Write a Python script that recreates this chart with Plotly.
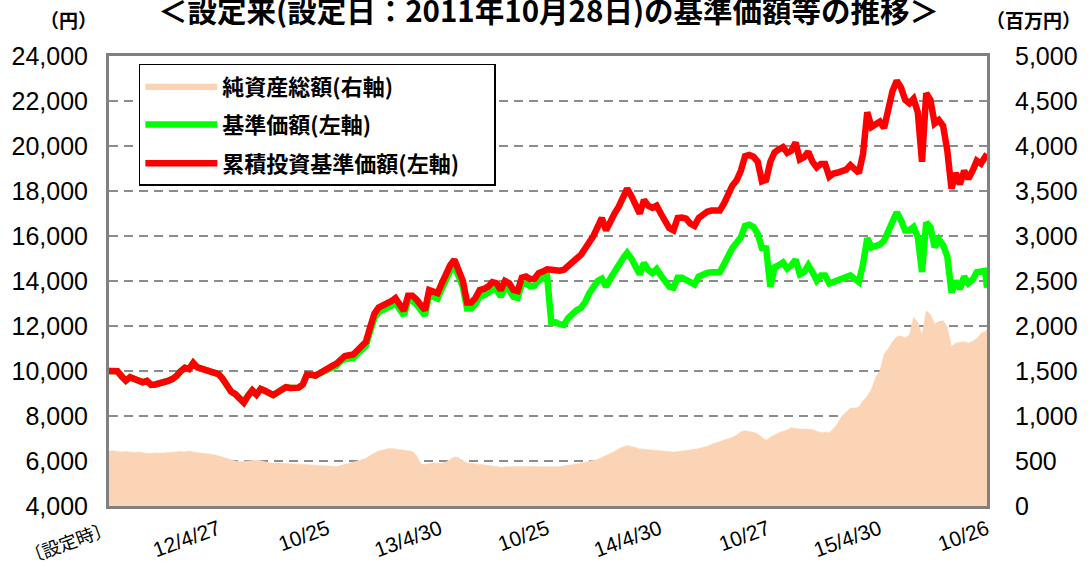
import pandas as pd
import plotly.graph_objects as go

# ---------------- data (weekly readings + final day) ----------------
dates = list(pd.date_range("2011-10-28", periods=209, freq="7D")) + [pd.Timestamp("2015-10-26")]

nav_cum = [
    10000, 10000, 9990, 9760, 9570, 9720, 9640, 9560, 9500, 9560,
    9380, 9400, 9430, 9480, 9560, 9640, 9770, 9990, 10140, 10090,
    10360, 10160, 10100, 10060, 9950, 9900, 9860, 9650, 9330, 9080,
    8970, 8800, 8600, 8900, 9140, 8950, 9200, 9120, 8990, 8930,
    9050, 9170, 9280, 9250, 9220, 9260, 9400, 9850, 9830, 9800,
    9900, 10030, 10130, 10230, 10330, 10550, 10670, 10700, 10730, 10920,
    11100, 11300, 11950, 12550, 12820, 12900, 12980, 13100, 13240, 12950,
    12680, 13350, 13350, 13180, 12900, 12700, 13600, 13550, 13460, 13900,
    14400, 14700, 14950, 14500, 14000, 13050, 13050, 13250, 13600, 13650,
    13750, 13950, 13900, 13600, 14000, 13900, 13600, 13550, 14150, 14200,
    14080, 14100, 14350, 14420, 14520, 14500, 14460, 14460, 14500, 14700,
    14880, 15000, 15150, 15400, 15750, 16000, 16400, 16800, 16250, 16700,
    17000, 17300, 17700, 18100, 17780, 17300, 17000, 17600, 17350, 17250,
    17350, 17000, 16700, 16350, 16250, 16800, 16820, 16770, 16550, 16450,
    16800, 16950, 17080, 17130, 17150, 17130, 17450, 17850, 18250, 18480,
    18900, 19550, 19600, 19520, 19300, 18430, 18500, 19300, 19720, 19850,
    19950, 19700, 19800, 20150, 19400, 19500, 19750, 19300, 19050, 19200,
    19200, 18640, 18780, 18820, 18850, 18950, 19150, 19000, 18800, 19650,
    21500, 20850, 21000, 21080, 20800, 21600, 22450, 22900, 22600, 22050,
    21900, 22100, 21500, 19300, 22350, 22050, 21000, 21150, 20900, 19800,
    18100, 18800, 18300, 18900, 18550, 18900, 19350, 19220, 19600, 19650,
]

nav = [
    10000, 10000, 9990, 9760, 9570, 9720, 9640, 9560, 9500, 9560,
    9380, 9400, 9430, 9480, 9560, 9640, 9770, 9990, 10140, 10090,
    10360, 10160, 10100, 10060, 9950, 9900, 9860, 9650, 9330, 9080,
    8970, 8800, 8600, 8900, 9140, 8950, 9200, 9120, 8990, 8930,
    9050, 9170, 9280, 9250, 9220, 9260, 9400, 9850, 9830, 9800,
    9900, 9980, 10070, 10150, 10230, 10430, 10540, 10560, 10580, 10770,
    10940, 11130, 11770, 12360, 12620, 12700, 12780, 12900, 13030, 12740,
    12470, 13130, 13130, 12960, 12680, 12470, 13370, 13320, 13220, 13660,
    14150, 14450, 14690, 14240, 13740, 12780, 12780, 12980, 13320, 13370,
    13470, 13660, 13610, 13310, 13700, 13600, 13300, 13250, 13850, 13900,
    13770, 13790, 14040, 14110, 14200, 12150, 12160, 12080, 12050, 12350,
    12580, 12700, 12800, 13050, 13450, 13700, 14000, 14100, 13750, 14100,
    14350, 14700, 15000, 15250, 15000, 14650, 14300, 14800, 14500, 14350,
    14530, 14250, 13950, 13750, 13700, 14150, 14150, 14030, 13900, 13850,
    14200, 14300, 14360, 14390, 14400, 14390, 14750, 15150, 15470, 15700,
    15950, 16450, 16500, 16400, 16100, 15470, 15450, 13750, 14610, 14700,
    14820, 14550, 14700, 14950, 14300, 14400, 14700, 14400, 14030, 14250,
    14250, 13890, 13950, 14030, 14080, 14200, 14250, 14100, 13960, 14750,
    15900, 15500, 15550, 15620, 15800, 16250, 16770, 17050, 16700, 16250,
    16250, 16400, 15950, 14400, 16600, 16400, 15500, 15850, 15600, 15100,
    13500, 14000, 13650, 14200, 13900, 14050, 14390, 14450, 14450, 13700,
]

net_assets = [
    610, 615, 605, 600, 605, 600, 595, 600, 590, 585,
    585, 590, 585, 590, 595, 600, 600, 605, 600, 610,
    600, 595, 590, 585, 580, 570, 555, 545, 530, 515,
    500, 495, 495, 500, 505, 510, 505, 490, 480, 475,
    480, 475, 470, 470, 468, 465, 462, 460, 458, 455,
    457, 450, 445, 442, 440, 450, 465, 475, 490, 500,
    515, 530, 560, 590, 610, 625, 635, 640, 635, 625,
    620, 615, 605, 560, 470, 460, 470, 480, 475, 475,
    490, 520, 545, 540, 500, 478, 470, 465, 462, 457,
    455, 445, 440, 430, 435, 440, 440, 438, 442, 440,
    440, 438, 440, 438, 435, 430, 435, 440, 445, 455,
    462, 468, 475, 485, 494, 505, 520, 540, 565, 585,
    605, 635, 655, 672, 660, 645, 637, 630, 625, 622,
    618, 610, 605, 600, 600, 605, 610, 615, 620, 630,
    640, 650, 665, 685, 700, 715, 730, 745, 763, 790,
    825, 835, 830, 820, 800, 760, 730, 765, 790, 815,
    830, 845, 870, 860, 855, 855, 850, 850, 830, 818,
    820, 818, 860, 920, 1000, 1050, 1088, 1090, 1100, 1170,
    1220, 1300, 1430, 1500, 1690, 1750, 1825, 1880, 1890, 1870,
    1900, 2100, 2040, 1900, 2168, 2130, 2025, 2050, 2060, 1990,
    1771, 1810, 1820, 1825, 1810, 1830, 1860, 1920, 1940, 1960,
]

tick_dates = ["2011-10-28", "2012-04-27", "2012-10-25", "2013-04-30", "2013-10-25",
              "2014-04-30", "2014-10-27", "2015-04-30", "2015-10-26"]
tick_labels = ["<span style='font-size:18px'>〔設定時〕</span>", "12/4/27", "10/25", "13/4/30", "10/25",
               "14/4/30", "10/27", "15/4/30", "10/26"]

series_names = ["純資産総額(右軸)", "基準価額(左軸)", "累積投資基準価額(左軸)"]
title_text = "＜設定来(設定日：2011年10月28日)の基準価額等の推移＞"

# ---------------- figure ----------------
CJK = "Noto Sans CJK JP"
NUM = "Liberation Sans, Arial, Noto Sans CJK JP"

fig = go.Figure()
fig.add_trace(go.Scatter(
    x=dates, y=net_assets, name=series_names[0], yaxis="y2",
    mode="lines", fill="tozeroy", fillcolor="#FAD4B4",
    line=dict(color="#FAD4B4", width=0.5), legendgroup="a",
))
fig.add_trace(go.Scatter(
    x=dates, y=nav, name=series_names[1], mode="lines",
    line=dict(color="#00FF00", width=6.5), legendgroup="b",
))
fig.add_trace(go.Scatter(
    x=dates, y=nav_cum, name=series_names[2] + "\u00a0" * 6, mode="lines",
    line=dict(color="#FF0000", width=6.5), legendgroup="c",
))

fig.update_layout(
    width=1090, height=580, autosize=False,
    margin=dict(l=103, r=97, t=56, b=61),
    plot_bgcolor="white", paper_bgcolor="white",
    showlegend=True,
    legend=dict(
        x=0.034, y=0.983, xanchor="left", yanchor="top",
        bgcolor="white", bordercolor="black", borderwidth=1.5,
        font=dict(family=CJK, size=22, color="black", weight="bold"),
        traceorder="grouped", tracegroupgap=7, itemwidth=72,
    ),
    xaxis=dict(
        type="date", range=["2011-10-28", "2015-10-26"],
        tickmode="array", tickvals=tick_dates, ticktext=tick_labels,
        tickangle=-20, tickfont=dict(family=NUM, size=21, color="black"),
        showgrid=False, showline=True, linecolor="#808080", linewidth=3,
        mirror=True, ticks="", zeroline=False,
    ),
    yaxis=dict(
        range=[4000, 24000], dtick=2000, tickformat=",d",
        tickfont=dict(family=NUM, size=25, color="black"),
        showgrid=True, gridcolor="#8C8C8C", gridwidth=2, griddash="9px,6px",
        showline=True, linecolor="#808080", linewidth=3,
        ticks="", ticklabelstandoff=13, zeroline=False,
    ),
    yaxis2=dict(
        range=[0, 5000], dtick=500, tickformat=",d", overlaying="y", side="right",
        tickfont=dict(family=NUM, size=25, color="black"),
        showgrid=False, showline=True, linecolor="#808080", linewidth=3,
        ticks="", ticklabelstandoff=20, zeroline=False,
    ),
    annotations=[
        dict(text="<b>" + title_text + "</b>", xref="paper", yref="paper",
             x=0.5, y=1.104, xanchor="center", yanchor="middle", showarrow=False,
             font=dict(family=CJK, size=29.5, color="black")),
        dict(text="<b>（円）</b>", xref="paper", yref="paper",
             x=-0.046, y=1.082, xanchor="center", yanchor="middle", showarrow=False,
             font=dict(family=CJK, size=19, color="black")),
        dict(text="<b>（百万円）</b>", xref="paper", yref="paper",
             x=1.053, y=1.082, xanchor="center", yanchor="middle", showarrow=False,
             font=dict(family=CJK, size=19, color="black")),
    ],
)

# the page's default 8px body margin is removed so the 1090x580 figure fills the window
fig.write_html("out.html", config={"displayModeBar": False},
               post_script="document.body.style.margin='0px';")
